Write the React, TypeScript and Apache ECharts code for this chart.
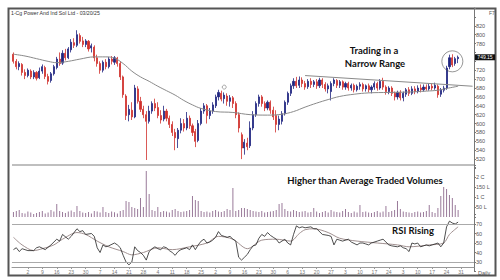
import { useEffect, useRef } from "react";
import * as echarts from "echarts";

const title = "1-Cg Power And Ind Sol Ltd - 03/20/25";
const slotCount = 160;
const firstTick = 5;
const tickStep = 5;
const tickLabels = ["2","9","16","23","30","7","14","21","28","4","11","18","25","2","9","16","23","30","6","13","20","27","3","10","17","24","3","10","17","24","31"];

// [open, close, low, high]
const ohlc: number[][] = [
  [756,740,735,760],[740,728,722,745],[728,735,720,740],[733,715,708,736],[715,708,700,722],
  [708,720,704,724],[718,705,700,722],[705,715,700,720],[715,702,697,718],[703,718,700,726],
  [718,728,712,733],[726,706,700,730],[706,695,688,712],[697,712,692,716],[712,728,708,732],
  [726,745,722,750],[745,735,730,760],[736,758,732,765],[758,748,742,768],[748,768,745,772],
  [766,783,760,790],[782,776,770,792],[776,800,772,810],[798,785,780,803],[786,778,772,795],
  [778,786,772,790],[785,768,762,788],[770,775,760,780],[772,748,740,776],[748,735,728,755],
  [735,720,712,740],[720,738,715,742],[738,728,722,745],[728,745,724,750],[745,740,733,752],
  [738,748,732,752],[747,735,728,750],[735,705,698,740],[705,665,658,708],[662,618,608,666],
  [620,632,605,642],[630,615,608,648],[615,680,612,687],[678,650,645,684],[650,632,626,660],
  [632,620,612,640],[620,605,518,628],[605,628,600,640],[628,645,622,650],[645,635,628,656],
  [636,618,612,648],[618,608,600,630],[610,628,605,640],[628,612,605,633],[612,598,590,618],
  [598,580,572,605],[580,568,540,588],[566,585,545,590],[585,600,578,612],[600,590,582,610],
  [590,612,585,626],[612,595,588,618],[595,580,572,600],[582,560,547,588],[562,600,558,608],
  [600,628,596,635],[628,640,622,646],[640,618,600,644],[618,628,610,635],[628,642,622,648],
  [640,660,635,665],[660,670,652,676],[668,655,650,674],[656,664,645,670],[662,650,640,668],
  [650,658,638,664],[658,645,635,662],[645,620,612,650],[620,590,580,625],[575,545,520,580],
  [545,558,530,565],[556,548,540,568],[550,590,545,605],[590,620,585,628],[620,645,615,650],
  [645,660,638,665],[660,645,638,664],[645,635,628,650],[635,648,630,652],[648,630,622,652],
  [630,615,608,638],[618,598,580,630],[598,610,585,618],[605,622,598,628],[622,648,618,652],
  [648,668,642,672],[668,685,662,690],[685,695,678,702],[695,685,680,705],[686,698,680,706],
  [698,690,682,704],[690,682,676,696],[683,695,678,700],[695,688,680,702],[688,694,682,698],
  [694,685,678,700],[685,698,680,703],[698,688,680,702],[688,678,672,693],[678,685,668,690],
  [672,690,652,695],[690,698,684,702],[697,686,680,700],[686,694,680,698],[694,682,676,697],
  [682,690,676,694],[690,680,674,694],[680,686,674,690],[686,676,670,690],[676,684,672,688],
  [684,688,676,693],[688,678,672,692],[678,685,672,688],[685,676,670,690],[676,682,668,686],
  [682,690,676,695],[690,680,674,694],[680,695,676,700],[695,682,676,703],[682,672,665,686],
  [672,680,666,684],[680,668,662,684],[668,660,652,672],[660,670,654,674],[670,658,652,675],
  [658,668,650,672],[666,676,660,680],[676,668,662,682],[668,678,664,684],[678,672,666,684],
  [672,680,668,686],[680,676,670,688],[676,682,672,688],[682,678,674,688],[678,684,674,690],
  [684,680,675,690],[680,686,676,692],[684,665,658,688],[666,675,660,680],[675,680,670,685],
  [680,725,676,730],[728,748,722,755],[748,732,727,756],[735,746,730,750],[746,749.15,736,753],
];

// volume in lakh
const volume = [
  25,30,35,20,18,28,22,15,20,25,
  30,18,22,35,28,65,30,25,20,28,
  32,25,55,30,22,20,25,18,30,28,
  22,50,25,20,28,24,18,30,35,80,
  75,50,45,40,95,50,230,115,35,30,
  50,25,30,28,22,35,40,30,25,28,
  30,35,105,85,80,30,25,28,22,30,
  35,28,25,30,40,35,145,30,35,45,
  45,40,35,30,28,25,30,22,25,28,
  30,35,65,70,40,30,28,35,30,25,
  28,30,22,25,45,28,20,25,30,22,
  35,28,25,22,30,40,25,20,28,22,
  60,25,28,22,20,25,30,22,28,55,
  25,30,35,80,40,28,25,22,20,25,
  28,22,25,30,60,25,20,45,105,150,
  140,110,95,60,35,
];

const maPts = [
  [0,756],[4,752],[8,746],[12,740],[15,737],[19,740],[23,745],[28,750],[32,750],[35,747],
  [38,735],[41,718],[44,705],[47,695],[50,684],[53,674],[56,664],[59,652],[62,642],[65,634],
  [70,627],[76,625],[82,620],[88,619],[93,621],[97,627],[101,637],[105,646],[109,654],[113,661],
  [118,666],[123,669],[130,670],[137,671],[143,673],[147,675],[150,679],[154,684],
];

const trendPts = [[101,708],[159,684]];
const breakoutCircle = [[152,740]];
const eventMarker = [[73,682]];

const rsiPts = [
  [0,43],[1,45],[2,41],[3,44],[5,42],[7,42],[8,45],[9,46],[11,43],[13,48],[15,54],[16,52],[17,59],
  [19,54],[20,57],[22,65],[23,62],[24,63],[25,59],[27,60],[28,57],[29,45],[30,40],[31,48],[32,46],
  [33,47],[35,50],[36,48],[37,45],[38,37],[39,30],[40,27],[41,30],[42,46],[43,42],[44,40],[45,37],
  [46,32],[47,41],[48,44],[49,46],[50,44],[51,43],[52,46],[53,45],[54,42],[55,40],[56,37],[57,41],
  [58,43],[60,45],[61,43],[62,48],[63,43],[64,48],[65,52],[66,54],[67,50],[68,51],[69,53],[70,56],
  [71,62],[72,58],[73,57],[74,56],[75,57],[76,54],[77,52],[78,35],[79,32],[80,35],[81,38],[82,43],
  [83,47],[84,48],[85,55],[86,59],[87,57],[88,61],[89,58],[90,56],[91,54],[92,50],[93,52],[94,54],
  [95,50],[96,48],[97,59],[98,68],[99,66],[100,67],[101,66],[103,67],[104,65],[105,65],[107,59],
  [109,58],[110,57],[111,48],[112,54],[113,53],[114,52],[116,54],[117,51],[119,48],[120,50],[121,50],
  [122,49],[123,48],[124,50],[126,52],[127,53],[128,54],[129,51],[130,48],[131,47],[133,46],[134,47],
  [135,45],[136,44],[137,41],[138,50],[139,49],[140,50],[141,46],[142,47],[143,48],[144,47],[145,48],
  [146,49],[147,50],[148,46],[149,50],[150,67],[151,73],[152,71],[153,70],[154,72],
];

const signalPts = [
  [0,56],[3,48],[7,42],[10,44],[14,48],[17,54],[22,61],[25,59],[29,52],[33,46],[38,41],[41,37.5],
  [45,40],[50,45],[55,43],[61,46],[67,50],[71,57],[76,54],[81,44],[86,53],[91,54],[96,52],[99,60],
  [101,64],[104,65],[109,61],[113,55],[119,52],[126,50],[133,48],[137,46],[144,48],[149,50],[151,59],
  [154,67],
];

const UP = "#1f2580";
const DOWN = "#d0302c";
const FONT = "Liberation Sans";

export default function App() {
  const ref = useRef<HTMLDivElement>(null);
  useEffect(() => {
    if (!ref.current) return;
    const chart = echarts.init(ref.current, undefined, { renderer: "svg" });
    const cats = Array.from({ length: slotCount }, (_, i) => String(i));
    const isTick = (i: number) => i >= firstTick && (i - firstTick) % tickStep === 0 && (i - firstTick) / tickStep < tickLabels.length;
    const axisLbl = { fontSize: 5.5, color: "#555", fontFamily: FONT, margin: 2 };
    const yBase = {
      type: "value",
      position: "right",
      splitLine: { show: false },
      axisLine: { show: true, lineStyle: { color: "#777", width: 1 } },
      axisTick: { show: true, length: 2, lineStyle: { color: "#777" } },
    };
    const gridPos = { left: 12, right: 26 };
    const last = ohlc[ohlc.length - 1][1];
    chart.setOption({
      animation: false,
      backgroundColor: "#ffffff",
      grid: [
        { ...gridPos, top: 8, height: 160 },
        { ...gridPos, top: 165, height: 52 },
        { ...gridPos, top: 214.5, height: 57 },
      ],
      xAxis: [0, 1, 2].map((g) => ({
        type: "category",
        gridIndex: g,
        data: cats,
        boundaryGap: true,
        show: g === 2,
        offset: g === 2 ? -4.5 : 0,
        axisLine: { show: true, lineStyle: { color: "#999", width: 1 } },
        axisTick: { show: true, alignWithLabel: true, length: 2, interval: (i: number) => isTick(i), lineStyle: { color: "#999" } },
        axisLabel: {
          ...axisLbl,
          fontSize: 5,
          color: "#777",
          margin: 2,
          interval: (i: number) => isTick(i),
          formatter: (_v: string, i: number) => (isTick(i) ? tickLabels[(i - firstTick) / tickStep] : ""),
        },
        splitLine: { show: false },
      })),
      yAxis: [
        {
          ...yBase, gridIndex: 0, min: 500, max: 860, interval: 20,
          axisLabel: {
            ...axisLbl,
            formatter: (v: number) => (v >= 520 && v <= 820 && Math.abs(v - last) > 12 ? String(v) : ""),
          },
        },
        {
          ...yBase, gridIndex: 1, min: 0, max: 260, interval: 50,
          axisLabel: { ...axisLbl, formatter: (v: number) => ({ 50: "50 L", 100: "1 C", 150: "150 L", 200: "2 C" } as any)[v] || "" },
        },
        {
          ...yBase, gridIndex: 2, min: 20, max: 80, interval: 10,
          axisLabel: { ...axisLbl, formatter: (v: number) => (v >= 30 && v <= 70 ? String(v) : "") },
        },
      ],
      series: [
        {
          type: "candlestick", xAxisIndex: 0, yAxisIndex: 0, data: ohlc, barWidth: 1.6,
          itemStyle: { color: UP, color0: DOWN, borderColor: UP, borderColor0: DOWN, borderWidth: 0.8 },
        },
        {
          type: "line", xAxisIndex: 0, yAxisIndex: 0, data: maPts, symbol: "none", smooth: 0.4,
          lineStyle: { color: "#8a8a8a", width: 1 }, z: 3,
        },
        {
          type: "line", xAxisIndex: 0, yAxisIndex: 0, data: trendPts, symbol: "none",
          lineStyle: { color: "#8a8a8a", width: 1 }, z: 3,
        },
        {
          type: "scatter", xAxisIndex: 0, yAxisIndex: 0, data: breakoutCircle, symbol: "circle", symbolSize: 21,
          itemStyle: { color: "rgba(0,0,0,0)", borderColor: "#444", borderWidth: 0.7 }, z: 4,
        },
        {
          type: "scatter", xAxisIndex: 0, yAxisIndex: 0, data: eventMarker, symbol: "circle", symbolSize: 4,
          itemStyle: { color: "rgba(0,0,0,0)", borderColor: "#777", borderWidth: 0.8 }, z: 4,
        },
        {
          type: "bar", xAxisIndex: 1, yAxisIndex: 1, data: volume, barWidth: 1,
          itemStyle: { color: "#9a7a9a" },
        },
        {
          type: "line", xAxisIndex: 2, yAxisIndex: 2, data: signalPts, symbol: "none", smooth: 0.3,
          lineStyle: { color: "#a09090", width: 1 },
        },
        {
          type: "line", xAxisIndex: 2, yAxisIndex: 2, data: rsiPts, symbol: "none",
          lineStyle: { color: "#222", width: 0.8 },
          markLine: {
            silent: true, symbol: ["none", "none"], label: { show: false },
            lineStyle: { color: "#aaa", width: 1.2, type: "solid" },
            data: [{ yAxis: 70 }, { yAxis: 30 }],
          },
        },
      ],
    });
    const ty = chart.convertToPixel({ yAxisIndex: 0 }, last) as number;
    const bold = (text: string, x: number, y: number) => ({
      type: "text", x, y,
      style: { text, fontSize: 9.5, fontWeight: "bold", fontFamily: "Lato", fill: "#111", textAlign: "center", textVerticalAlign: "middle" },
    });
    chart.setOption({
      graphic: [
        { type: "rect", shape: { x: 8.5, y: 8.5, width: 487, height: 267 }, style: { fill: "none", stroke: "#555", lineWidth: 2 }, silent: true },
        { type: "line", shape: { x1: 12, y1: 165, x2: 474, y2: 165 }, style: { stroke: "#aaa", lineWidth: 1.5 }, silent: true },
        { type: "text", x: 11, y: 13, style: { text: title, fontSize: 5.2, fontFamily: FONT, fill: "#333", textVerticalAlign: "middle" } },
        { type: "text", x: 489, y: 13, style: { text: "F7", fontSize: 5, fontFamily: FONT, fill: "#555", textVerticalAlign: "middle" } },
        bold("Trading in a", 374, 50),
        bold("Narrow Range", 375, 63),
        bold("Higher than Average Traded Volumes", 365, 180),
        bold("RSI Rising", 413, 230),
        { type: "text", x: 478, y: 273, style: { text: "Daily", fontSize: 5.5, fontFamily: FONT, fill: "#555", textVerticalAlign: "middle" } },
        { type: "rect", shape: { x: 475, y: ty - 3, width: 20, height: 6 }, style: { fill: "#111" }, z: 10 },
        { type: "text", x: 485, y: ty, z: 11, style: { text: last.toFixed(2), fontSize: 5, fontFamily: FONT, fill: "#fff", textAlign: "center", textVerticalAlign: "middle" } },
      ],
    });
    return () => chart.dispose();
  }, []);
  return <div ref={ref} style={{ position: "fixed", left: 0, top: 0, width: 500, height: 280 }} />;
}
